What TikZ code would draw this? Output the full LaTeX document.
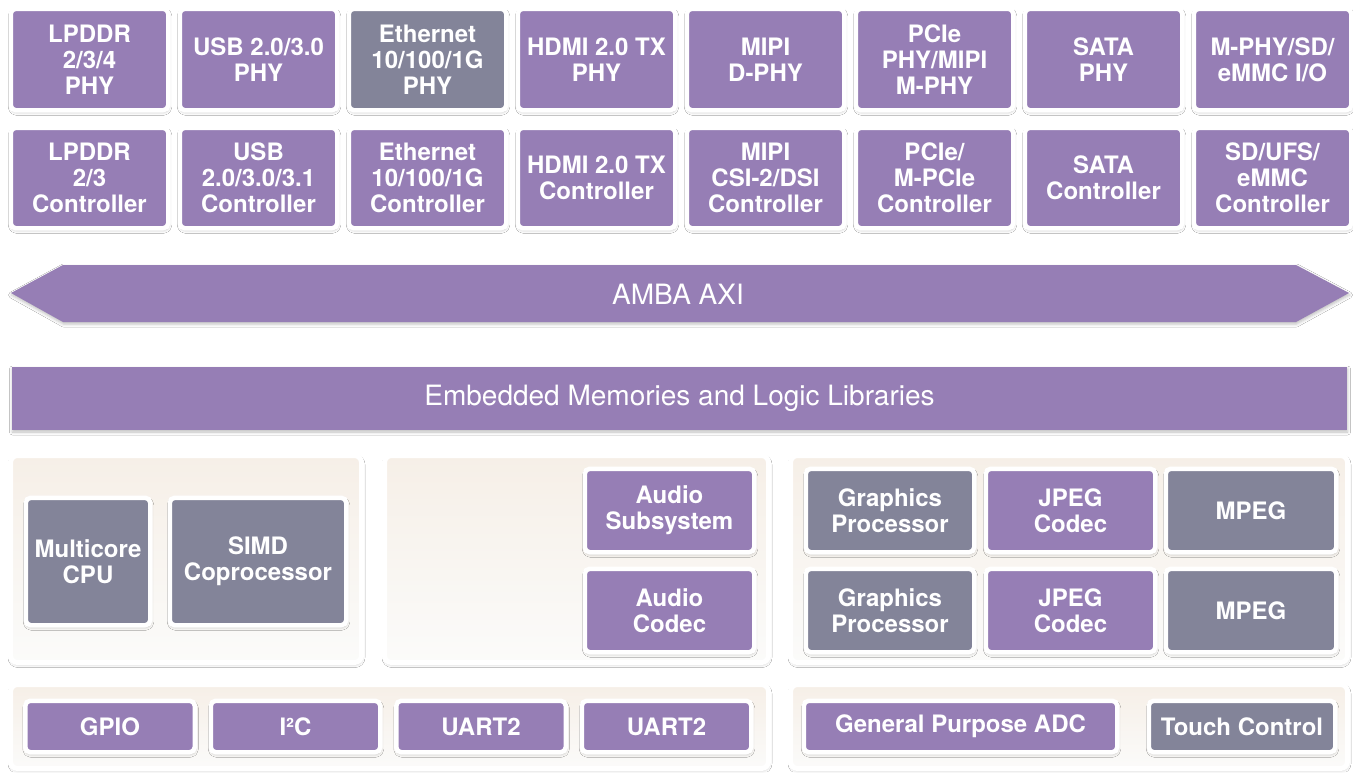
\documentclass[tikz,border=0pt]{standalone}
\usepackage{fontspec}
\setmainfont{TeX Gyre Heros}
\usetikzlibrary{shadows.blur}
\definecolor{purp}{RGB}{150,126,181}
\definecolor{slate}{RGB}{131,132,153}
\definecolor{pnltop}{RGB}{246,239,231}
\definecolor{pnlbot}{RGB}{251,251,250}
\begin{document}
\begin{tikzpicture}[x=1pt, y=-1pt,
  sh/.style={blur shadow={shadow xshift=0.5pt, shadow yshift=-2pt, shadow blur radius=3pt, shadow opacity=25}},
  blk/.style={sh, draw=white, line width=4.5pt, rounded corners=5pt, fill=purp, text=white,
    align=center, inner sep=0pt, font=\bfseries\fontsize{24}{26}\selectfont},
  gry/.style={blk, fill=slate},
  pnl/.style={sh, draw=white, line width=5pt, rounded corners=7pt, top color=pnltop, bottom color=pnlbot},
  bartext/.style={text=white, font=\fontsize{28}{32}\selectfont}]
  \useasboundingbox (0,0) rectangle (1353,772);
  \fill[white] (0,0) rectangle (1353,772);
  \foreach \t/\c [count=\i from 0] in {{LPDDR\\2/3/4\\PHY}/blk, {USB 2.0/3.0\\PHY}/blk,
      {Ethernet\\10/100/1G\\PHY}/gry, {HDMI 2.0 TX\\PHY}/blk, {MIPI\\D-PHY}/blk,
      {PCIe\\PHY/MIPI\\M-PHY}/blk, {SATA\\PHY}/blk, {M-PHY/SD/\\eMMC I/O}/blk}
    \node[\c, minimum width=157.5, minimum height=101.5] (phy\i) at (89.5+169*\i,59.5) {\t};
  \foreach \t [count=\i from 0] in {{LPDDR\\2/3\\Controller}, {USB\\2.0/3.0/3.1\\Controller},
      {Ethernet\\10/100/1G\\Controller}, {HDMI 2.0 TX\\Controller}, {MIPI\\CSI-2/DSI\\Controller},
      {PCIe/\\M-PCIe\\Controller}, {SATA\\Controller}, {SD/UFS/\\eMMC\\Controller}}
    \node[blk, minimum width=157.5, minimum height=100.5] (ctl\i) at (89.5+169*\i,178) {\t};
  \fill[purp, sh] (11,293) -- (63,265) -- (1296,265) -- (1349,293) -- (1296,322) -- (63,322) -- cycle;
  \node[bartext] (axi) at (678,294) {AMBA AXI};
  \node[sh, fill=purp, minimum width=1335, minimum height=63, bartext] (mem) at (679.5,398.5)
    {Embedded Memories and Logic Libraries};
  \node[pnl, minimum width=351, minimum height=207] (cpupnl) at (186,559) {};
  \node[pnl, minimum width=384, minimum height=207] (audpnl) at (576.5,559) {};
  \node[pnl, minimum width=557, minimum height=207] (mmpnl) at (1069,559) {};
  \node[pnl, minimum width=758, minimum height=84] (iopnl) at (389.5,726.5) {};
  \node[pnl, minimum width=557, minimum height=84] (anapnl) at (1069,726.5) {};
  \node[gry, minimum width=124.5, minimum height=127.5] (cpu) at (88,561.5) {Multicore\\CPU};
  \node[gry, minimum width=176.5, minimum height=127.5] (simd) at (258,561.5) {SIMD\\Coprocessor};
  \node[blk, minimum width=169.5, minimum height=83.5] (audsub) at (669.5,510.5) {Audio\\Subsystem};
  \node[blk, minimum width=169.5, minimum height=83.5] (audcod) at (669.5,610.5) {Audio\\Codec};
  \foreach \r [count=\k] in {510.5,610.5} {
    \node[gry, minimum width=168.5, minimum height=83.5] (gfx\k) at (890,\r) {Graphics\\Processor};
    \node[blk, minimum width=169.5, minimum height=83.5] (jpeg\k) at (1070.5,\r) {JPEG\\Codec};
    \node[gry, minimum width=170.5, minimum height=83.5] (mpeg\k) at (1251,\r) {MPEG};
  }
  \foreach \t [count=\i from 0] in {GPIO, I²C, UART2, UART2}
    \node[blk, minimum width=169.5, minimum height=51.5] (io\i) at (110+185.5*\i,726.5) {\t};
  \node[blk, minimum width=313.5, minimum height=51.5] (adc) at (960.5,726.5) {General Purpose ADC};
  \node[gry, minimum width=186.5, minimum height=51.5] (touch) at (1242,726.5) {Touch Control};
\end{tikzpicture}
\end{document}
